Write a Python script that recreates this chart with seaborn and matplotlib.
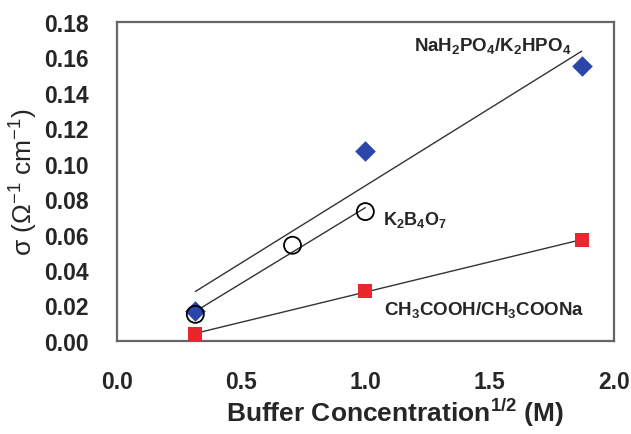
import numpy as np
import pandas as pd
import matplotlib
matplotlib.use("Agg")
import matplotlib.pyplot as plt
import seaborn as sns

# data
x_phos = [0.316, 1.0, 1.87]
y_phos = [0.017, 0.107, 0.155]
x_borate = [0.316, 0.707, 1.0]
y_borate = [0.015, 0.054, 0.073]
x_acet = [0.316, 1.0, 1.87]
y_acet = [0.004, 0.028, 0.057]

sns.set_style("white")
plt.rcParams['font.family'] = ['Liberation Sans', 'DejaVu Sans']
plt.rcParams['mathtext.fontset'] = 'custom'
plt.rcParams['mathtext.rm'] = 'Liberation Sans'
plt.rcParams['mathtext.bf'] = 'Liberation Sans:bold'

fig = plt.figure(figsize=(6.31, 4.35), dpi=100)
ax = fig.add_axes([0.185, 0.214, 0.788, 0.733])

line_kw = dict(color='#333333', linewidth=1.0)
sns.regplot(x=x_phos, y=y_phos, ci=None, scatter=False, line_kws=line_kw, ax=ax)
sns.regplot(x=x_borate, y=y_borate, ci=None, scatter=False, line_kws=line_kw, ax=ax)
sns.regplot(x=x_acet, y=y_acet, ci=None, scatter=False, line_kws=line_kw, ax=ax)

sns.scatterplot(x=x_phos, y=y_phos, marker='D', s=110, color='#2b45a8',
                edgecolor='#2b45a8', linewidth=0, ax=ax, zorder=3)
sns.scatterplot(x=x_acet, y=y_acet, marker='s', s=90, color='#e8262b',
                edgecolor='#e8262b', linewidth=0, ax=ax, zorder=3)
sns.scatterplot(x=x_borate, y=y_borate, marker='o', s=150, facecolor='none',
                edgecolor='black', linewidth=1.3, ax=ax, zorder=4)

ax.text(1.83, 0.167, r'$\mathbf{NaH_2PO_4/K_2HPO_4}$', ha='right', va='center',
        fontsize=13.5)
ax.text(1.07, 0.069, r'$\mathbf{K_2B_4O_7}$', ha='left', va='center', fontsize=13)
ax.text(1.88, 0.018, r'$\mathbf{CH_3COOH/CH_3COONa}$', ha='right', va='center',
        fontsize=13.5)

ax.set_xlim(0, 2.0)
ax.set_ylim(0, 0.18)
ax.set_xticks(np.arange(0, 2.01, 0.5))
ax.set_yticks(np.arange(0, 0.181, 0.02))
ax.set_xticklabels([f"{v:.1f}" for v in np.arange(0, 2.01, 0.5)], fontweight='bold')
ax.set_yticklabels([f"{v:.2f}" for v in np.arange(0, 0.181, 0.02)], fontweight='bold')
ax.tick_params(axis='both', labelsize=16.5, direction='out', length=7, width=1,
               color='#666666')
ax.tick_params(axis='y', pad=13)
ax.tick_params(axis='x', pad=14)

for sp in ax.spines.values():
    sp.set_color('#666666')
    sp.set_linewidth(1.6)

ax.set_xlabel(r'Buffer Concentration$^{\mathbf{1/2}}$ (M)', fontsize=19,
              fontweight='bold')
ax.xaxis.set_label_coords(0.56, -0.17)
ax.set_ylabel(r'σ (Ω$^{-1}$ cm$^{-1}$)', fontsize=19, labelpad=4)

fig.savefig("out.png", dpi=100)
